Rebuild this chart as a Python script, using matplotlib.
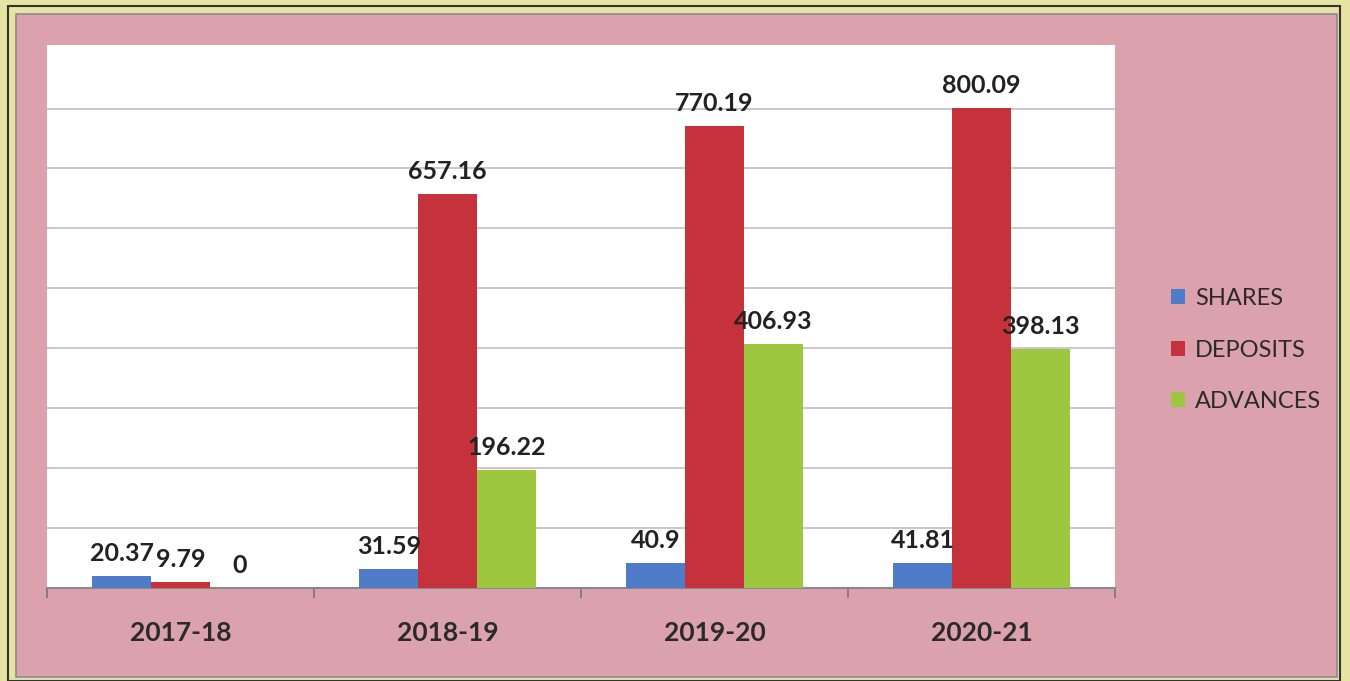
import matplotlib.pyplot as plt
from matplotlib.patches import Rectangle
import numpy as np

plt.rcParams['font.family'] = ['Lato', 'DejaVu Sans']

# data
years = ['2017-18', '2018-19', '2019-20', '2020-21']
shares = [20.37, 31.59, 40.9, 41.81]
deposits = [9.79, 657.16, 770.19, 800.09]
advances = [0, 196.22, 406.93, 398.13]

series_names = ['SHARES', 'DEPOSITS', 'ADVANCES']
series_colors = ['#4f7cc9', '#c6323b', '#9cc73e']

fig = plt.figure(figsize=(13.5, 6.81), dpi=100)
fig.patch.set_facecolor('#e7e3a3')

# pink card with dark frame (behind the axes)
fig.patches.append(Rectangle((8 / 1350, 0.0), 1332 / 1350, 1 - 6 / 681,
                             transform=fig.transFigure, facecolor='none',
                             edgecolor='#333333', linewidth=1.5, zorder=-2))
fig.patches.append(Rectangle((16 / 1350, 4 / 681), 1321 / 1350, 1 - 18 / 681,
                             transform=fig.transFigure, facecolor='#dba2ae',
                             edgecolor='#8a8a90', linewidth=1.2, zorder=-1))

ax = fig.add_axes([47 / 1350, 1 - 588 / 681, 1068 / 1350, 543 / 681])
ax.set_facecolor('white')

x = np.arange(len(years))
w = 0.22
for i, (vals, name, col) in enumerate(zip([shares, deposits, advances], series_names, series_colors)):
    bars = ax.bar(x + (i - 1) * w, vals, w, color=col, label=name, zorder=3)
    for b, v in zip(bars, vals):
        ax.annotate(f'{v:g}', (b.get_x() + b.get_width() / 2, v),
                    xytext=(0, 8), textcoords='offset points',
                    ha='center', va='bottom', fontsize=18, fontweight='bold',
                    color='#222222', zorder=4)

ax.set_xlim(-0.5, len(years) - 0.5)
ax.set_ylim(0, 906)
ax.set_yticks(range(100, 900, 100))
ax.yaxis.grid(True, color='#c9b7c4', linewidth=1.2, zorder=0)
ax.tick_params(axis='y', left=False, labelleft=False)

ax.set_xticks(np.arange(-0.5, len(years), 1.0), minor=False)
ax.set_xticklabels([])
ax.set_xticks(x, minor=True)
ax.set_xticklabels(years, minor=True, fontsize=19, fontweight='bold', color='#2a2a2a')
ax.tick_params(axis='x', which='minor', length=0, pad=24)
ax.tick_params(axis='x', which='major', length=7, color='#777777', width=1.2)

for s in ['top', 'right', 'left']:
    ax.spines[s].set_visible(False)
ax.spines['bottom'].set_color('#888888')
ax.spines['bottom'].set_linewidth(1.5)

leg = fig.legend(loc='center left', bbox_to_anchor=(1150 / 1350, 1 - 350 / 681),
                 frameon=False, fontsize=17, handlelength=0.6, handleheight=0.6,
                 handletextpad=0.4, labelspacing=1.3, labelcolor='#2a2a2a')

fig.savefig('out.png', dpi=100, facecolor=fig.get_facecolor())
